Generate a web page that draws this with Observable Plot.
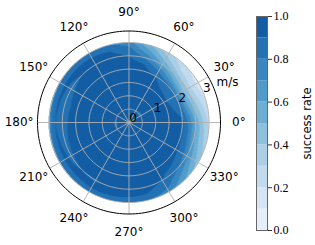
<!DOCTYPE html>
<html><head><meta charset="utf-8">
<script src="https://cdn.jsdelivr.net/npm/d3@7"></script>
<script src="https://cdn.jsdelivr.net/npm/@observablehq/plot@0.6"></script>
<style>
body{margin:0;background:#fff}
#c{display:flex;width:315px;height:245px}
#c svg{overflow:visible}
</style>
</head><body><div id="c"></div>
<script>
// ---- data ----
const angles = [0,15,30,45,60,75,90,105,120,135,150,165,180,195,210,225,240,255,270,285,300,315,330,345];
const radii = [0,0.5,1,1.5,2,2.25,2.5,2.75,3];
const success = [
  [0.97,0.93,0.96,0.95,0.92,0.78,0.58,0.42,0.28],
  [0.97,0.91,0.96,0.94,0.86,0.64,0.46,0.32,0.20],
  [0.97,0.89,0.96,0.93,0.80,0.55,0.38,0.24,0.14],
  [0.97,0.89,0.96,0.94,0.84,0.64,0.45,0.30,0.22],
  [0.97,0.90,0.97,0.95,0.90,0.78,0.60,0.45,0.34],
  [0.97,0.92,0.97,0.96,0.94,0.90,0.78,0.64,0.52],
  [0.97,0.94,0.97,0.96,0.95,0.94,0.90,0.84,0.74],
  [0.97,0.93,0.97,0.96,0.95,0.95,0.93,0.90,0.80],
  [0.97,0.93,0.96,0.95,0.96,0.95,0.94,0.92,0.82],
  [0.97,0.93,0.96,0.93,0.96,0.94,0.90,0.93,0.80],
  [0.97,0.92,0.96,0.92,0.95,0.92,0.87,0.92,0.78],
  [0.97,0.91,0.95,0.93,0.95,0.90,0.86,0.91,0.76],
  [0.97,0.89,0.95,0.94,0.96,0.91,0.86,0.90,0.74],
  [0.97,0.89,0.96,0.93,0.95,0.92,0.87,0.91,0.76],
  [0.97,0.90,0.96,0.94,0.95,0.93,0.88,0.92,0.78],
  [0.97,0.92,0.96,0.95,0.94,0.94,0.90,0.92,0.80],
  [0.97,0.93,0.96,0.95,0.93,0.95,0.89,0.93,0.82],
  [0.97,0.93,0.96,0.95,0.94,0.95,0.91,0.93,0.82],
  [0.97,0.93,0.97,0.96,0.95,0.95,0.93,0.92,0.82],
  [0.97,0.94,0.97,0.96,0.95,0.94,0.93,0.90,0.80],
  [0.97,0.94,0.97,0.96,0.95,0.93,0.90,0.85,0.74],
  [0.97,0.94,0.97,0.96,0.94,0.90,0.82,0.70,0.60],
  [0.97,0.94,0.96,0.95,0.93,0.86,0.72,0.56,0.44],
  [0.97,0.93,0.96,0.95,0.92,0.80,0.62,0.46,0.34]
];
const angleTicks = [0,30,60,90,120,150,180,210,240,270,300,330];
const angleLabels = ["0°","30°","60°","90°","120°","150°","180°","210°","240°","270°","300°","330°"];
const gridRadii = [0.5,1,1.5,2,2.5,3];
const radialTicks = [0,1,2,3];
const radialUnit = "m/s";
const colorThresholds = [0.1,0.2,0.3,0.4,0.5,0.6,0.7,0.8,0.9];
const colorLevels = [0,0.1,0.2,0.3,0.4,0.5,0.6,0.7,0.8,0.9];
const colorbarTicks = [0,0.2,0.4,0.6,0.8,1.0];
const colorbarLabel = "success rate";

// ---- setup ----
const R = 3.43;         // outer radius of polar frame (m/s)
const dataMax = 3;      // data extent
const labelR = 4.12;    // angle label radius
const rad = d => d * Math.PI / 180;
const colors = colorLevels.map((_, i) => d3.interpolateBlues(0.09 + i * 0.082));
const colorScale = {type: "threshold", domain: colorThresholds, range: colors};

const step = 360 / angles.length;
function field(x, y) {
  const r = Math.hypot(x, y);
  if (r > dataMax) return NaN;
  const a = (Math.atan2(y, x) * 180 / Math.PI + 360) % 360;
  const n = angles.length;
  const ia = Math.floor(a / step);
  const i0 = ia % n, i1 = (ia + 1) % n, fa = a / step - ia;
  let j = d3.bisectRight(radii, r) - 1;
  j = Math.max(0, Math.min(j, radii.length - 2));
  const fr = (r - radii[j]) / (radii[j + 1] - radii[j]);
  const v = (i, k) => success[i][k];
  return (1 - fa) * ((1 - fr) * v(i0, j) + fr * v(i0, j + 1)) +
         fa * ((1 - fr) * v(i1, j) + fr * v(i1, j + 1));
}

const circlePts = [];
for (const r of gridRadii) for (let a = 0; a <= 360; a += 2) circlePts.push({r, a});
const outerPts = d3.range(0, 361, 2).map(a => ({a}));

const sans = "DejaVu Sans, sans-serif";
const main = Plot.plot({
  width: 245, height: 245,
  marginLeft: 37, marginRight: 25, marginTop: 30.5, marginBottom: 31.5,
  x: {domain: [-R, R], axis: null},
  y: {domain: [-R, R], axis: null},
  color: colorScale,
  style: {fontFamily: sans, background: "white"},
  marks: [
    Plot.raster({x1: -R, x2: R, y1: -R, y2: R, pixelSize: 0.5, fill: field}),
    Plot.line(circlePts, {x: d => d.r * Math.cos(rad(d.a)), y: d => d.r * Math.sin(rad(d.a)), z: "r", stroke: "#b0b0b0", strokeWidth: 0.9}),
    Plot.link(angleTicks, {x1: 0, y1: 0, x2: a => R * Math.cos(rad(a)), y2: a => R * Math.sin(rad(a)), stroke: "#b0b0b0", strokeWidth: 0.9}),
    Plot.line(outerPts, {x: d => R * Math.cos(rad(d.a)), y: d => R * Math.sin(rad(d.a)), stroke: "black", strokeWidth: 1}),
    Plot.text(angleTicks, {x: a => labelR * Math.cos(rad(a)), y: a => labelR * Math.sin(rad(a)), text: (a, i) => angleLabels[i], fontSize: 12, fill: "black"}),
    Plot.text(radialTicks, {x: r => r * Math.cos(rad(22.5)), y: r => r * Math.sin(rad(22.5)), text: r => String(r), dx: 4, dy: -4, fontSize: 12, fill: "black"}),
    Plot.text([radialUnit], {x: 4.0 * Math.cos(rad(22.5)), y: 4.0 * Math.sin(rad(22.5)), text: d => d, fontSize: 12, fill: "black"})
  ]
});

const bar = Plot.plot({
  width: 70, height: 245,
  marginLeft: 11, marginRight: 48, marginTop: 16, marginBottom: 15,
  x: {domain: [0, 1], axis: null},
  y: {domain: [0, 1]},
  color: colorScale,
  style: {background: "white"},
  marks: [
    Plot.rect(colorLevels, {x1: 0, x2: 1, y1: d => d, y2: d => d + 0.1, fill: d => d + 0.05}),
    Plot.frame({stroke: "#666", strokeWidth: 1}),
    Plot.axisY({anchor: "right", ticks: colorbarTicks, tickFormat: d3.format(".1f"), tickSize: 4, tickPadding: 2, label: null, fontSize: 12, fontFamily: "Liberation Serif, serif", stroke: "#333"}),
    Plot.text([colorbarLabel], {frameAnchor: "middle", dx: 45, rotate: -90, fontSize: 11.5, fontFamily: sans, fill: "black"})
  ]
});

document.getElementById("c").append(main, bar);
</script>
</body></html>
